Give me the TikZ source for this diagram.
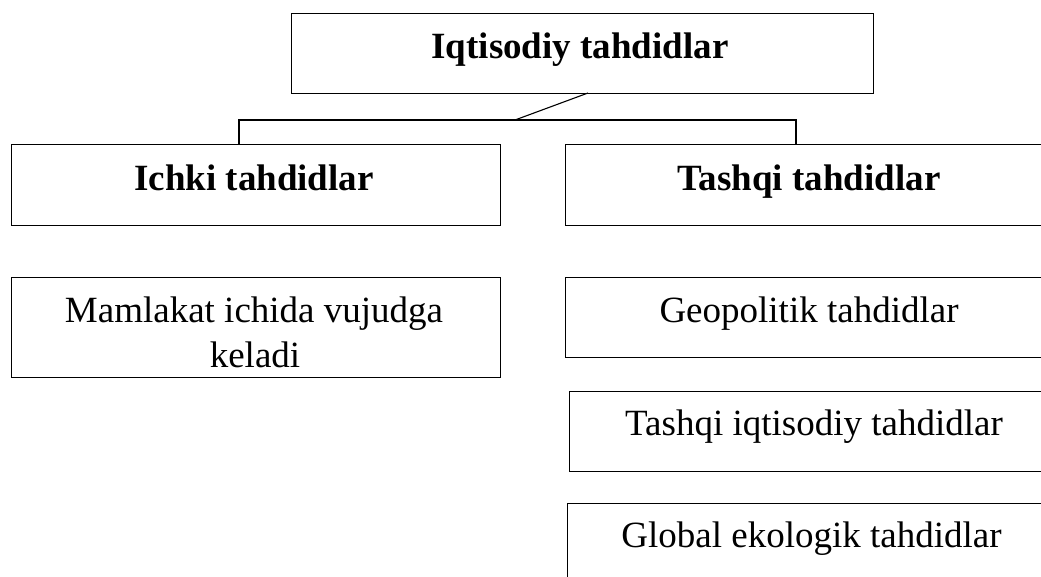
\documentclass[tikz,border=0pt]{standalone}
\usepackage{fontspec}
\setmainfont{Liberation Serif}
\begin{document}
\begin{tikzpicture}[x=1pt,y=-1pt,
  box/.style={draw=black, line width=1.3pt, rectangle, inner sep=0pt, anchor=north west},
  conn/.style={draw=black, line width=1.1pt},
  hd/.style={anchor=base, font=\fontsize{37}{45}\selectfont\bfseries, inner sep=0pt},
  tx/.style={anchor=base, font=\fontsize{37}{45}\selectfont, inner sep=0pt, align=center}
]
\useasboundingbox (0,0) rectangle (1041,576);
\clip (0,0) rectangle (1041,576);
% boxes
\node[box, minimum width=582pt, minimum height=80pt] (top) at (291,13) {};
\node[box, minimum width=489pt, minimum height=81pt] (ichki) at (11,144) {};
\node[box, minimum width=488pt, minimum height=81pt] (tashqi) at (565,144) {};
\node[box, minimum width=489pt, minimum height=100pt] (mam) at (11,277) {};
\node[box, minimum width=488pt, minimum height=80pt] (geo) at (565,277) {};
\node[box, minimum width=490pt, minimum height=80pt] (tiq) at (569,391) {};
\node[box, minimum width=489pt, minimum height=90pt] (glob) at (567,503) {};
% texts
\node[hd] (ttop) at (580,58) {Iqtisodiy tahdidlar};
\node[hd] (tichki) at (254,190) {Ichki tahdidlar};
\node[hd] (ttashqi) at (809,190) {Tashqi tahdidlar};
\node[tx] (tmam1) at (254,322) {Mamlakat ichida vujudga};
\node[tx] (tmam2) at (255,367) {keladi};
\node[tx] (tgeo) at (809,322) {Geopolitik tahdidlar};
\node[tx] (ttiq) at (814,435) {Tashqi iqtisodiy tahdidlar};
\node[tx] (tglob) at (811.5,547) {Global ekologik tahdidlar};
% connectors
\coordinate (d1) at (588,93);
\coordinate (mid) at (515,120);
\coordinate (hl) at (239,120);
\coordinate (hr) at (796,120);
\draw[conn] (d1) -- (mid);
\draw[conn] (ichki.north west -| hl) -- (hl) -- (hr) -- (tashqi.north west -| hr);
\end{tikzpicture}
\end{document}
